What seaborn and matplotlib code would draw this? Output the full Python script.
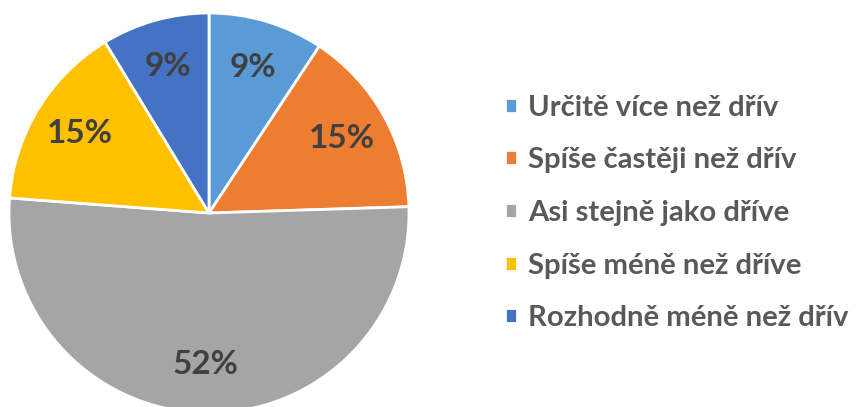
import matplotlib
matplotlib.use("Agg")
import matplotlib.pyplot as plt
import seaborn as sns

categories = ["Určitě více než dřív", "Spíše častěji než dřív", "Asi stejně jako dříve",
              "Spíše méně než dříve", "Rozhodně méně než dřív"]
values = [9.3, 15.2, 51.7, 15.1, 8.7]
colors = ["#5B9BD5", "#ED7D31", "#A5A5A5", "#FFC000", "#4472C4"]

sns.set_theme(style="white")
plt.rcParams['font.family'] = ['Lato', 'DejaVu Sans']
palette = sns.color_palette(colors)

fig = plt.figure(figsize=(8.56, 4.07), dpi=100)
ax = fig.add_axes([9/856, -6/407, 400/856, 400/407])
wedges, texts, autotexts = ax.pie(
    values, colors=palette, startangle=90, counterclock=False,
    autopct=lambda p: f"{p:.0f}%", pctdistance=0.76,
    wedgeprops=dict(edgecolor="white", linewidth=2),
    textprops=dict(color="#404040", fontsize=24, fontweight="bold"),
    radius=1.0)
ax.set_xlim(-1, 1)
ax.set_ylim(-1, 1)
ax.set_aspect("equal")
ax.axis("off")

leg = fig.legend(wedges, categories, loc="center left",
                 bbox_to_anchor=(505/856, 194/407),
                 frameon=False, handlelength=0.42, handleheight=0.42,
                 handletextpad=0.38, labelspacing=0.91,
                 borderpad=0, borderaxespad=0,
                 prop=dict(size=21.1, weight="bold"))
for t in leg.get_texts():
    t.set_color("#595959")

fig.savefig("out.png", dpi=100)
